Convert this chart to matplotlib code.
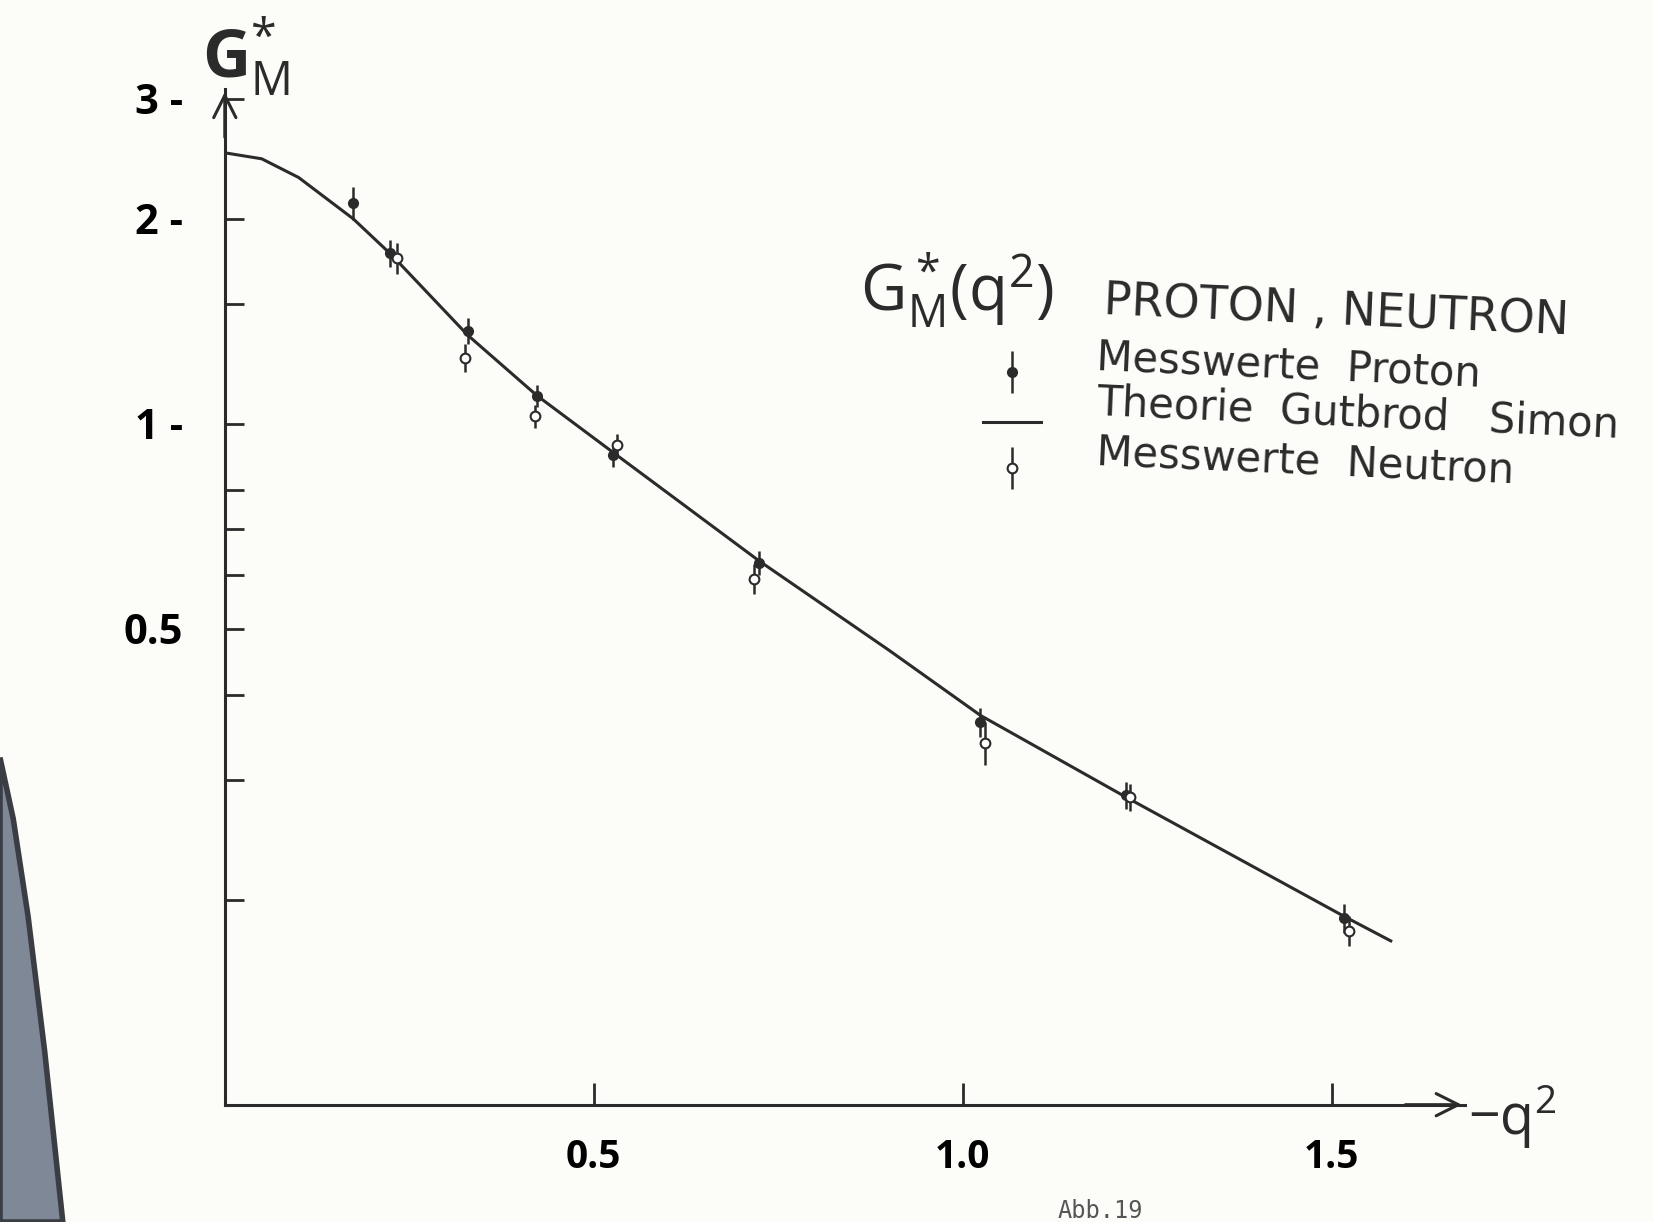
import numpy as np
import matplotlib.pyplot as plt
from matplotlib.patches import Polygon

# ============================================================
# DATA (-q^2 in GeV^2)
# ============================================================

theory_q2 = [0.0, 0.05, 0.10, 0.174, 0.226, 0.329, 0.423, 0.526, 0.724, 0.90, 1.024, 1.221, 1.517, 1.58]
theory_gm = [2.50, 2.45, 2.30, 2.00, 1.77, 1.35, 1.10, 0.908, 0.629, 0.465, 0.373, 0.283, 0.189, 0.174]

proton_q2 = [0.174, 0.224, 0.329, 0.423, 0.526, 0.724, 1.024, 1.221, 1.517]
proton_gm = [2.11, 1.78, 1.37, 1.10, 0.90, 0.625, 0.365, 0.285, 0.188]
proton_err = [0.12, 0.08, 0.06, 0.04, 0.035, 0.025, 0.018, 0.013, 0.009]

neutron_q2 = [0.233, 0.326, 0.421, 0.531, 0.717, 1.030, 1.227, 1.523]
neutron_gm = [1.75, 1.25, 1.025, 0.93, 0.592, 0.340, 0.283, 0.180]
neutron_err = [0.09, 0.06, 0.04, 0.035, 0.03, 0.025, 0.013, 0.009]

y_ticks = [0.2, 0.3, 0.4, 0.5, 0.6, 0.7, 0.8, 1.0, 1.5, 2.0, 3.0]
y_labels = {0.5: "0.5", 1.0: "1 -", 2.0: "2 -", 3.0: "3 -"}
x_ticks = [0.5, 1.0, 1.5]
x_labels = ["0.5", "1.0", "1.5"]

ink = "#2b2b2b"
paper = "#fcfcf9"

# ============================================================
# FIGURE
# ============================================================

plt.rcParams["mathtext.fontset"] = "custom"
plt.rcParams["mathtext.rm"] = "Open Sans"
plt.rcParams["mathtext.it"] = "Open Sans"
plt.rcParams["mathtext.bf"] = "Open Sans:bold"
plt.rcParams["mathtext.sf"] = "Open Sans"

fig = plt.figure(figsize=(16.53, 12.22), dpi=100, facecolor=paper)
ax = fig.add_axes([0.136, 0.096, 0.75, 0.831])
ax.set_facecolor("none")

# book edge shadow at the lower left
fig.patches.append(Polygon([[0, 0.38], [0.008, 0.33], [0.017, 0.25], [0.027, 0.14], [0.038, 0.0], [0, 0]],
                           closed=True, transform=fig.transFigure,
                           facecolor="#7f8896", edgecolor="#3a3d44", linewidth=4))

ax.plot(theory_q2, theory_gm, color=ink, lw=2.2)
p_err = ax.errorbar(proton_q2, proton_gm, yerr=proton_err, fmt="o", ms=7, color=ink,
                    mfc=ink, mec=ink, elinewidth=1.8, capsize=0)
n_err = ax.errorbar(neutron_q2, neutron_gm, yerr=neutron_err, fmt="o", ms=7, color=ink,
                    mfc="white", mec=ink, mew=1.5, elinewidth=1.8, capsize=0)

ax.set_yscale("log")
ax.set_xlim(0, 1.68)
ax.set_ylim(0.1, 3.1)

for s in ["top", "right"]:
    ax.spines[s].set_visible(False)
for s in ["left", "bottom"]:
    ax.spines[s].set_color(ink)
    ax.spines[s].set_linewidth(2.2)

ax.set_yticks(y_ticks)
ax.set_yticks([], minor=True)
ax.set_yticklabels([y_labels.get(v, "") for v in y_ticks],
                   fontsize=30, fontweight="bold", family="Open Sans")
ax.set_xticks(x_ticks)
ax.set_xticklabels(x_labels, fontsize=28, fontweight="bold", family="Open Sans")
ax.tick_params(axis="y", direction="in", length=14, width=2, color=ink, pad=30)
ax.tick_params(axis="x", direction="in", length=16, width=2, color=ink, pad=24)

# axis arrows
ax.annotate("", xy=(1.0, 0), xytext=(0.95, 0), xycoords="axes fraction",
            arrowprops=dict(arrowstyle="->", color=ink, lw=2.2, mutation_scale=40))
ax.annotate("", xy=(0, 1.0), xytext=(0, 0.95), xycoords="axes fraction",
            arrowprops=dict(arrowstyle="->", color=ink, lw=2.2, mutation_scale=40))

ax.text(1.003, -0.012, r"$\mathsf{-q^2}$", transform=ax.transAxes, fontsize=40,
        color=ink, va="center", ha="left")
fig.text(0.122, 0.988, r"$\mathbf{G}_{\mathsf{M}}^{\mathsf{*}}$", fontsize=48,
         color=ink, va="top")

# title block
fig.text(0.52, 0.745, r"$\mathsf{G_M^*(q^2)}$", fontsize=46, color=ink)
fig.text(0.667, 0.745, "PROTON , NEUTRON", fontsize=33, color=ink,
         family="DejaVu Sans", rotation=-2.5, va="center")

labels = ["Messwerte  Proton", "Theorie  Gutbrod   Simon", "Messwerte  Neutron"]
handles = [p_err, ax.lines[0], n_err]
leg = fig.legend(handles, labels, loc="upper left", bbox_to_anchor=(0.572, 0.755),
                 frameon=False, handlelength=1.4, handletextpad=1.3,
                 labelspacing=-0.35, prop={"family": "DejaVu Sans", "size": 30})
for t in leg.get_texts():
    t.set_color(ink)
    t.set_rotation(-2.5)

fig.text(0.64, 0.003, "Abb.19", family="DejaVu Sans Mono", fontsize=17, color="#555555")

fig.savefig("out.png", dpi=100, facecolor=paper)
